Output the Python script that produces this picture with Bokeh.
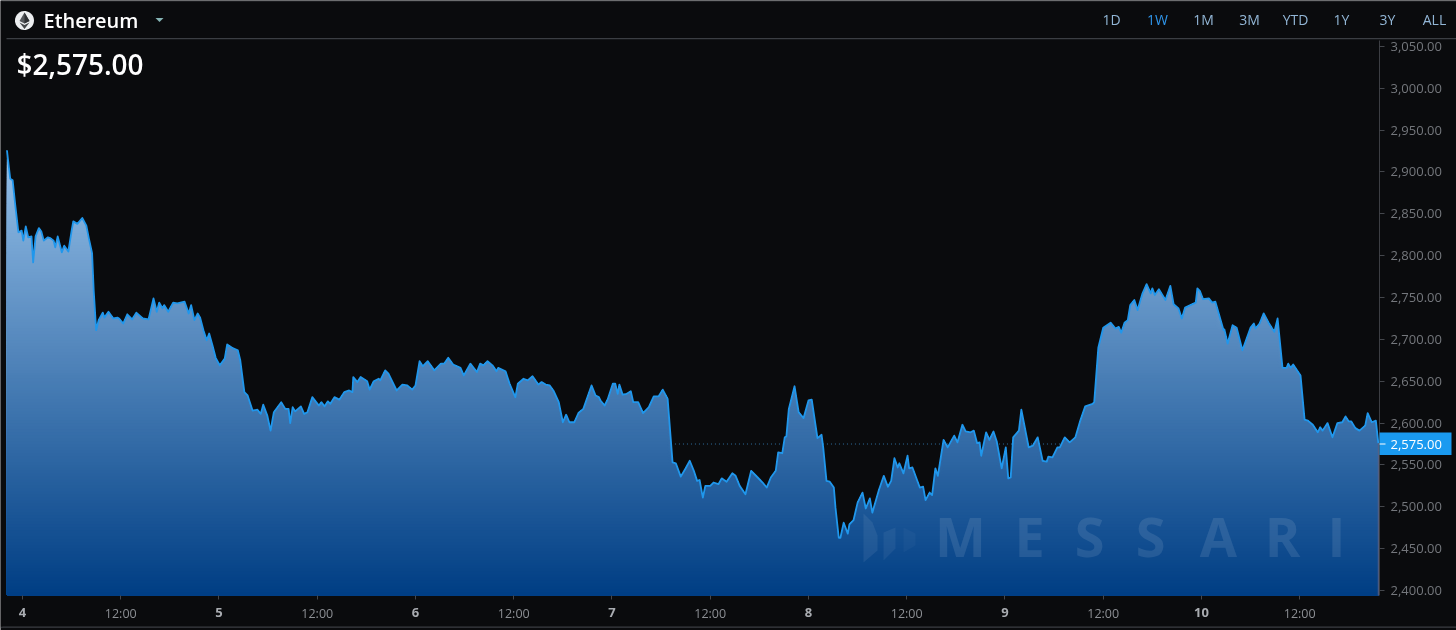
from bokeh.plotting import figure
from bokeh.embed import file_html
from bokeh.resources import INLINE
from bokeh.models import (Range1d, LinearAxis, FixedTicker, NumeralTickFormatter, Label,
                          PolyAnnotation)
import numpy as np

# hours since the start of day "4", and the price read at that moment
hours = [-1.9,-1.5,-1.2,-0.9,-0.5,-0.1,0.1,0.4,0.7,1.1,1.3,1.6,2.0,2.3,2.6,3.1,3.4,3.8,4.0,4.3,4.8,5.1,5.6,6.0,6.2,6.7,7.3,7.8,8.1,8.5,8.7,9.0,9.3,9.8,10.0,10.5,11.1,11.6,11.8,12.3,12.8,13.4,13.9,14.7,15.4,16.0,16.4,16.7,17.1,17.3,17.8,18.4,18.9,19.8,20.3,20.6,21.0,21.4,21.7,22.1,22.5,22.8,23.2,23.6,24.1,24.7,25.0,25.6,26.3,26.6,
 27.1,27.5,28.1,28.7,29.1,29.4,29.9,30.3,30.7,31.6,32.1,32.5,32.7,33.0,33.3,34.0,34.4,34.8,35.4,36.2,36.5,36.9,37.3,37.6,38.1,38.7,39.3,39.9,40.3,40.4,40.9,41.3,42.1,42.4,42.9,43.5,43.7,44.3,44.7,45.7,46.4,47.0,47.6,48.0,48.5,48.9,49.5,50.3,51.1,51.5,52.0,52.6,53.5,53.9,54.7,55.5,55.9,56.3,56.8,57.4,57.9,58.1,59.0,59.5,60.2,60.5,61.2,61.7,62.3,63.0,
 63.4,63.9,64.4,64.9,65.5,66.0,66.4,66.8,67.4,67.9,68.5,69.5,70.0,70.4,70.6,71.1,71.5,72.1,72.4,72.7,72.9,73.3,73.8,74.3,74.6,75.2,75.8,76.5,77.1,77.7,78.2,78.8,79.4,79.8,80.4,81.0,81.5,82.0,82.4,82.7,83.1,83.4,84.0,84.4,85.0,85.4,86.0,86.7,87.1,87.6,88.3,89.0,89.8,90.4,90.9,91.4,92.0,92.3,92.8,93.1,93.3,93.6,94.3,94.8,95.4,96.0,96.4,97.1,97.6,97.8,98.2,98.6,99.1,99.3,99.7,99.9,100.3,100.8,101.0,101.5,102.0,102.6,103.0,103.5,103.8,104.6,105.2,105.7,106.1,106.5,106.9,107.1,107.6,108.1,108.3,108.7,109.6,110.0,110.3,110.8,111.1,111.5,111.8,112.5,113.0,113.8,114.2,114.8,115.2,115.8,116.2,116.6,116.9,117.1,117.7,118.1,118.6,119.0,119.6,120.1,120.4,120.7,121.0,121.7,122.0,122.9,123.4,124.0,124.6,125.1,125.3,125.8,126.4,126.7,127.3,127.9,128.6,129.2,129.8,130.7,130.9,131.4,132.0,132.9,133.5,133.9,134.2,134.6,135.0,135.3,135.8,136.2,136.8,137.3,137.8,138.0,138.3,138.8,139.6,140.2,140.6,141.2,141.6,142.0,143.3,143.5,143.8,144.2,144.9,145.3,145.7,146.7,146.8,147.2,147.8,148.3,149.0,150.0,150.4,150.6,151.1,151.6,152.2,152.9,153.3,153.9,154.4,154.6,154.9,155.2,156.1,156.6,157.0,157.6,158.2,158.5,158.8,159.4,160.0,160.6,161.2,161.6,162.0,162.3,162.8,163.3,164.0,164.3,164.8,165.3,165.6]
prices = [2926,2892,2890,2862,2828,2830,2818,2835,2822,2823,2792,2823,2833,2829,2818,2822,2821,2818,2810,2823,2804,2812,2805,2830,2841,2838,2845,2836,2821,2803,2758,2711,2723,2732,2726,2733,2725,2726,2725,2719,2730,2724,2732,2725,2724,2749,2733,2744,2737,2741,2733,2744,2743,2745,2731,2741,2723,2731,2726,2711,2699,2707,2693,2678,2669,2677,2694,2690,2687,2675,
 2637,2633,2615,2616,2611,2622,2609,2591,2613,2625,2617,2617,2600,2619,2614,2620,2611,2613,2631,2621,2625,2620,2626,2623,2631,2628,2637,2639,2637,2655,2649,2655,2650,2640,2650,2653,2651,2663,2659,2639,2646,2645,2640,2645,2674,2668,2674,2663,2671,2671,2678,2670,2666,2657,2671,2661,2671,2669,2674,2669,2662,2666,2662,2647,2631,2647,2653,2651,2656,2646,
 2649,2646,2645,2638,2625,2601,2610,2601,2601,2612,2617,2645,2633,2631,2627,2621,2629,2647,2647,2635,2646,2634,2635,2638,2625,2625,2612,2619,2632,2632,2640,2629,2553,2552,2536,2546,2555,2543,2531,2532,2511,2525,2525,2529,2527,2534,2530,2540,2537,2525,2515,2543,2535,2529,2523,2535,2543,2565,2564,2583,2584,2617,2644,2613,2606,2627,2628,2582,2586,2571,2531,2530,2523,2499,2463,2463,2481,2468,2479,2484,2505,2517,2498,2510,2493,2520,2537,2524,2531,2558,2547,2552,2540,2561,2546,2547,2523,2524,2508,2517,2514,2546,2537,2580,2571,2585,2577,2598,2590,2589,2591,2576,2577,2561,2589,2580,2590,2578,2546,2571,2534,2535,2583,2591,2616,2571,2573,2583,2555,2554,2560,2559,2571,2571,2583,2577,2583,2603,2620,2623,2625,2690,2714,2720,2713,2715,2708,2720,2723,2741,2747,2735,2755,2766,2755,2761,2753,2760,2747,2764,2742,2737,2725,2738,2744,2761,2758,2748,2749,2744,2745,2711,2712,2695,2717,2714,2687,2714,2719,2713,2719,2731,2720,2709,2725,2666,2666,2671,2666,2670,2657,2604,2603,2598,2589,2595,2591,2600,2583,2600,2601,2608,2602,2602,2594,2591,2597,2612,2601,2603,2576]

price_ticks = [2400,2450,2500,2550,2600,2650,2700,2750,2800,2850,2900,2950,3000,3050]
day_hours = [0,24,48,72,96,120,144]
day_labels = ["4","5","6","7","8","9","10"]
noon_hours = [12,36,60,84,108,132,156]
noon_label = "12:00"
last_price = 2575.00
range_buttons = ["1D","1W","1M","3M","YTD","1Y","3Y","ALL"]
active_button = "1W"
asset_name = "Ethereum"
watermark = "MESSARI"

assert len(hours) == len(prices), (len(hours), len(prices))

W, H = 1456, 630
BG = "#0a0b0d"
FONT = "Open Sans"
SEMI = "Open Sans SemiBold"
BASE_PRICE, AXIS_HOUR = 2394.0, 165.75   # where the two axes sit on their scales
TOP_PRICE = 3057.3

def sy(py):
    return H - py

# the plot frame fills the whole page so the header can be drawn around it
p = figure(width=W, height=H, output_backend="svg", toolbar_location=None,
           x_range=Range1d(-2.687, 175.15), y_range=Range1d(2352.2, 3104.9),
           background_fill_color=BG, border_fill_color=BG, outline_line_color=None,
           min_border_left=0, min_border_right=0, min_border_top=0, min_border_bottom=0,
           x_axis_location=None, y_axis_location=None)
p.styles = {"position": "fixed", "left": "0", "top": "0"}
p.grid.visible = False

# x axis
xa = LinearAxis(ticker=FixedTicker(ticks=day_hours + noon_hours), fixed_location=BASE_PRICE)
xa.major_label_overrides = {**{h: "" for h in day_hours}, **{h: noon_label for h in noon_hours}}
xa.axis_line_color = None
xa.major_tick_line_color = "#44474c"
xa.major_tick_in = 0
xa.major_tick_out = 4
xa.minor_tick_line_color = None
xa.major_label_text_color = "#8c8f94"
xa.major_label_text_font = FONT
xa.major_label_text_font_size = "12.5px"
xa.major_label_standoff = 5
p.add_layout(xa, "below")

# price axis
ya = LinearAxis(ticker=FixedTicker(ticks=price_ticks), formatter=NumeralTickFormatter(format="0,0.00"),
                fixed_location=AXIS_HOUR, bounds=(BASE_PRICE, TOP_PRICE))
ya.axis_line_color = "#3c3e43"
ya.major_tick_line_color = "#44474c"
ya.major_tick_in = 0
ya.major_tick_out = 5
ya.minor_tick_line_color = None
ya.major_label_text_color = "#74777c"
ya.major_label_text_font = FONT
ya.major_label_text_font_size = "13px"
ya.major_label_standoff = 6
p.add_layout(ya, "right")

x = np.array(hours, float)
v = np.array(prices, float)

# dotted last-price line, hidden by the area wherever the price is above it
p.segment(x0=[hours[0]], y0=[last_price], x1=[hours[-1]], y1=[last_price],
          line_color="#2f6f9f", line_dash="1 3", line_width=1)

# area: stack of painted bands giving the vertical gradient
top_price = 2926.0
n_bands = 150
c_top = np.array([150, 193, 233])
c_bot = np.array([0, 62, 132])
edges = np.linspace(top_price, BASE_PRICE, n_bands + 1)
for i in range(n_bands):
    t = i / (n_bands - 1)
    r, g, b = (c_top + (c_bot - c_top) * t).round().astype(int)
    p.varea(x=x, y1=np.minimum(v, edges[i]), y2=np.full_like(v, BASE_PRICE),
            fill_color=f"#{r:02x}{g:02x}{b:02x}", fill_alpha=1)
p.line(x=x, y=v, line_color="#2097ec", line_width=1.8, line_join="round")

# right edge of the area
p.segment(x0=[hours[-1]], y0=[BASE_PRICE], x1=[hours[-1]], y1=[prices[-1]], line_color="#5a5f80", line_width=1)

def poly(xs, ys, color, alpha=1.0):
    p.add_layout(PolyAnnotation(xs=list(xs), ys=[sy(a) for a in ys],
                                xs_units="screen", ys_units="screen",
                                fill_color=color, fill_alpha=alpha, line_color=None, level="overlay"))

def rule(l, r, t, b, color, alpha=1.0):
    poly([l, r, r, l], [t, t, b, b], color, alpha)

def txt(text, px, py, size, color, align="left", style="normal", font=FONT, **kw):
    p.add_layout(Label(x=px, y=sy(py), x_units="screen", y_units="screen", text=text,
                       text_color=color, text_font=font, text_font_size=f"{size}px",
                       text_align=align, text_baseline="middle", text_font_style=style,
                       level="overlay", **kw))

# header and frame rules
rule(6, W, 37.5, 38.8, "#3b3e43")
rule(0, W, 0, 1, "#2b2d31")
rule(0, W, 626, 627.2, "#3b3e43")
rule(0, 2, 1, 626, BG)

# header
ang = np.linspace(0, 2*np.pi, 40)
poly(24 + 9.5*np.cos(ang), 20 + 9.5*np.sin(ang), "#eceef0")
poly([24, 29, 24, 19], [12, 20.5, 23, 20.5], "#55585c")
poly([24, 29, 24], [12, 20.5, 23], "#2e3033")
poly([24, 29, 24, 19], [24.5, 22, 28.5, 22], "#44474a")
txt(asset_name, 43, 20, 20, "#ffffff", font=SEMI)
poly([155, 163, 159], [17.5, 17.5, 21.5], "#86b5b5")
txt("$2,575.00", 16, 63.5, 28, "#ffffff", font=SEMI)

button_px = [1111, 1157, 1203, 1249, 1295, 1341, 1387, 1434]
for name, bx in zip(range_buttons, button_px):
    txt(name, bx, 18.5, 14, "#2f95ea" if name == active_button else "#92b6d6", align="center")

# day labels, on the same hour scale as the axis
for h, d in zip(day_hours, day_labels):
    p.add_layout(Label(x=h, y=sy(612), y_units="screen", text=d, text_color="#a9acb1",
                       text_font=FONT, text_font_size="13px", text_font_style="bold",
                       text_align="center", text_baseline="middle"))

# last price tag
rule(1379, 1451, 432, 454.5, "#1a9af0")
rule(1379, 1385, 443, 444, "#ffffff")
txt("2,575.00", 1390, 443.5, 13, "#ffffff")

# watermark
mark_px = [960, 1029, 1089, 1150, 1218, 1282, 1336]
for ch, mx in zip(watermark, mark_px):
    txt(ch, mx, 535, 54, "#ffffff", align="center", style="bold", font="Open Sans", text_alpha=0.10)
poly([863, 872, 877, 877, 863], [513, 522, 535, 550, 562], "#ffffff", 0.07)
poly([883, 895, 895, 883], [532, 527, 548, 560], "#ffffff", 0.06)
poly([903, 915, 915, 903], [527, 533, 545, 552], "#ffffff", 0.03)

open("out.html", "w").write(file_html(p, INLINE))
